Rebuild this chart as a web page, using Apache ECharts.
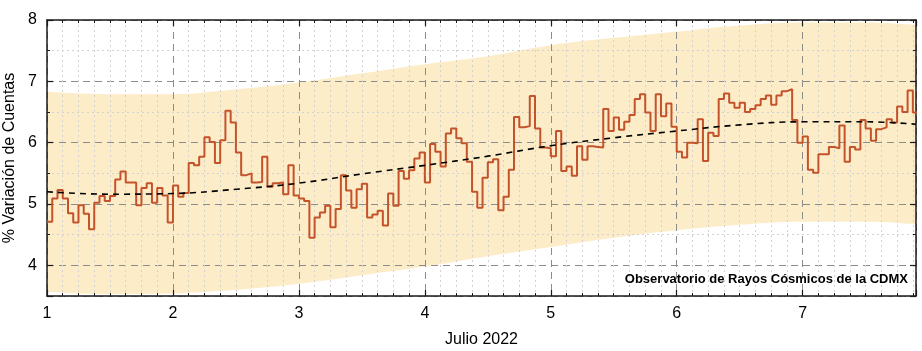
<!DOCTYPE html>
<html>
<head>
<meta charset="utf-8">
<script src="https://cdn.jsdelivr.net/npm/echarts@6/dist/echarts.min.js"></script>
<style>html,body{margin:0;padding:0;background:#fff}#c{width:922px;height:351px}</style>
</head>
<body>
<div id="c"></div>
<script>
// ---- Data ----
var startDay = 1;          // 1 de julio 2022, 00:00
var hoursPerDay = 24;
var hourlyValues = [
  4.71,5.09,5.23,5.09,4.85,4.70,4.98,4.84,4.59,5.02,5.13,5.05,5.13,5.40,5.53,5.35,5.35,4.98,5.26,5.34,5.02,5.26,5.14,4.70,
  5.30,5.12,5.18,5.67,5.63,5.77,6.09,6.01,5.67,6.04,6.52,6.33,5.84,5.47,5.50,5.35,5.36,5.77,5.28,5.34,5.35,5.16,5.63,5.14,
  5.09,5.05,4.45,4.78,4.86,4.97,4.62,4.92,5.47,5.22,4.94,5.24,5.33,4.78,4.83,4.89,4.65,5.17,4.97,5.54,5.41,5.55,5.74,5.84,
  5.35,5.98,5.85,5.61,6.15,6.23,6.07,5.99,5.69,5.20,4.94,5.43,5.68,5.73,4.90,5.12,5.56,6.42,6.25,6.27,6.76,6.23,5.92,5.91,
  5.78,6.19,5.54,5.61,5.46,5.94,5.72,5.94,5.93,5.92,6.55,6.19,6.41,6.21,6.34,6.45,6.71,6.79,6.49,6.19,6.79,6.43,6.64,6.26,
  5.85,5.76,6.00,5.99,6.38,5.70,6.16,6.11,6.71,6.80,6.65,6.57,6.65,6.50,6.55,6.61,6.71,6.77,6.62,6.77,6.84,6.87,6.37,6.00,
  6.10,5.56,5.51,5.81,5.81,5.93,5.91,6.28,5.69,5.93,5.89,6.37,6.23,6.03,6.22,6.25,6.38,6.33,6.59,6.50,6.85,6.49
];
var curveDays  = [1, 1.5, 2, 2.5, 3, 3.5, 4, 4.5, 5, 5.5, 6, 6.5, 7, 7.5, 7.9];
var bandUpper  = [6.83,6.79,6.79,6.87,6.98,7.13,7.28,7.41,7.59,7.71,7.81,7.91,7.96,7.96,7.92];
var bandLower  = [3.57,3.53,3.54,3.60,3.70,3.84,3.98,4.15,4.30,4.45,4.57,4.66,4.71,4.71,4.67];
var trendValues= [5.20,5.16,5.17,5.24,5.34,5.49,5.63,5.78,5.95,6.08,6.19,6.29,6.34,6.34,6.30];
var xTickLabels = ['1','2','3','4','5','6','7'];
var yTickLabels = ['4','5','6','7','8'];
var xTitle = 'Julio 2022';
var yTitle = '% Variación de Cuentas';
var credit = 'Observatorio de Rayos Cósmicos de la CDMX';

// ---- Build series data ----
var stepData = hourlyValues.map(function (v, i) { return [startDay + i / hoursPerDay, v]; });
stepData.push([startDay + hourlyValues.length / hoursPerDay, hourlyValues[hourlyValues.length - 1]]);
var upperData = curveDays.map(function (d, i) { return [d, bandUpper[i]]; });
var lowerData = curveDays.map(function (d, i) { return [d, bandLower[i]]; });
var trendData = curveDays.map(function (d, i) { return [d, trendValues[i]]; });

var FONT = 'Liberation Sans, Arial, sans-serif';
var AX = '#1a1a1a';
var MAJ = '#8c8c8c';
var MIN = '#d2d2d2';
var BAND = '#fdecc8';
var XMIN = 1, XMAX = 7.9, YMIN = 3.5, YMAX = 8;

function intLabel(list) {
  return function (v) {
    var s = String(Math.round(v));
    return (Math.abs(v - Math.round(v)) < 1e-6 && list.indexOf(s) >= 0) ? s : '';
  };
}
var minorXColors = ['rgba(0,0,0,0)', MIN, MIN, MIN, MIN, MIN, MIN, MIN];
var MAJ_X = {color: MAJ, type: [7, 5], width: 1};

var chart = echarts.init(document.getElementById('c'), null, {renderer: 'canvas'});
chart.setOption({
  animation: false,
  backgroundColor: '#ffffff',
  grid: {left: 47, right: 6, top: 20, bottom: 55, containLabel: false, outerBoundsMode: 'none'},
  xAxis: [
    { type: 'value', position: 'bottom', min: XMIN, max: XMAX, interval: 1, z: 1,
      name: xTitle, nameLocation: 'middle', nameGap: 36,
      nameTextStyle: {fontFamily: FONT, fontSize: 16, color: '#000'},
      axisLine: {onZero: false, lineStyle: {color: AX, width: 1.5}},
      axisTick: {inside: true, length: 6, lineStyle: {color: AX, width: 1.2}},
      axisLabel: {formatter: intLabel(xTickLabels), fontFamily: FONT, fontSize: 16, color: '#000', margin: 10, showMinLabel: true, showMaxLabel: true},
      splitLine: {show: true, lineStyle: MAJ_X} },
    { type: 'value', position: 'bottom', min: XMIN, max: XMAX, interval: 0.125, z: 1,
      axisLine: {show: false, onZero: false},
      axisTick: {inside: true, length: 3, lineStyle: {color: AX, width: 1}},
      axisLabel: {show: false},
      splitLine: {show: true, lineStyle: {color: minorXColors, type: [2, 3], width: 1}} },
    { type: 'value', position: 'top', min: XMIN, max: XMAX, interval: 1, z: 1,
      axisLine: {onZero: false, lineStyle: {color: AX, width: 1.5}},
      axisTick: {inside: true, length: 6, lineStyle: {color: AX, width: 1.2}},
      axisLabel: {show: false}, splitLine: {show: false} },
    { type: 'value', position: 'top', min: XMIN, max: XMAX, interval: 0.125, z: 1,
      axisLine: {show: false, onZero: false},
      axisTick: {inside: true, length: 3, lineStyle: {color: AX, width: 1}},
      axisLabel: {show: false}, splitLine: {show: false} }
  ],
  yAxis: [
    { type: 'value', position: 'left', min: YMIN, max: YMAX, minInterval: 1, maxInterval: 1, splitNumber: 4, z: 1,
      name: yTitle, nameLocation: 'middle', nameGap: 21, nameRotate: 90,
      nameTextStyle: {fontFamily: FONT, fontSize: 16, color: '#000'},
      axisLine: {show: true, onZero: false, lineStyle: {color: AX, width: 1.5}},
      axisTick: {show: true, inside: true, length: 6, lineStyle: {color: AX, width: 1.2}},
      axisLabel: {formatter: intLabel(yTickLabels), fontFamily: FONT, fontSize: 16, color: '#000', margin: 10},
      splitLine: {show: true, lineStyle: MAJ_X} },
    { type: 'value', position: 'left', min: YMIN, max: YMAX, interval: 0.5, z: 1,
      axisLine: {show: false, onZero: false},
      axisTick: {show: true, inside: true, length: 3, lineStyle: {color: AX, width: 1}},
      axisLabel: {show: false},
      splitLine: {show: true, lineStyle: {color: [MIN, 'rgba(0,0,0,0)'], type: [2, 3], width: 1}} },
    { type: 'value', position: 'right', min: YMIN, max: YMAX, minInterval: 1, maxInterval: 1, splitNumber: 4, z: 1,
      axisLine: {show: true, onZero: false, lineStyle: {color: AX, width: 1.5}},
      axisTick: {show: true, inside: true, length: 6, lineStyle: {color: AX, width: 1.2}},
      axisLabel: {show: false}, splitLine: {show: false} },
    { type: 'value', position: 'right', min: YMIN, max: YMAX, interval: 0.5, z: 1,
      axisLine: {show: false, onZero: false},
      axisTick: {show: true, inside: true, length: 3, lineStyle: {color: AX, width: 1}},
      axisLabel: {show: false}, splitLine: {show: false} }
  ],
  series: [
    { type: 'line', name: 'upper', data: upperData, smooth: 0.4, symbol: 'none',
      lineStyle: {width: 0, opacity: 0},
      areaStyle: {color: BAND, opacity: 1, origin: 'start'}, silent: true, z: 0, zlevel: 0 },
    { type: 'line', name: 'lower', data: lowerData, smooth: 0.4, symbol: 'none',
      lineStyle: {width: 0, opacity: 0},
      areaStyle: {color: '#ffffff', opacity: 1, origin: 'start'}, silent: true, z: 0, z2: 1, zlevel: 0 },
    { type: 'line', name: 'obs', data: stepData, step: 'end', symbol: 'none',
      lineStyle: {color: '#c4532b', width: 2}, z: 3, clip: true },
    { type: 'line', name: 'trend', data: trendData, smooth: 0.4, symbol: 'none',
      lineStyle: {color: '#000', width: 1.6, type: [6, 5]}, z: 4 }
  ],
  graphic: [
    { type: 'text', right: 14, top: 273, z: 10,
      style: {text: credit, font: 'bold 13px ' + FONT, fill: '#000'} }
  ]
});
</script>
</body>
</html>
